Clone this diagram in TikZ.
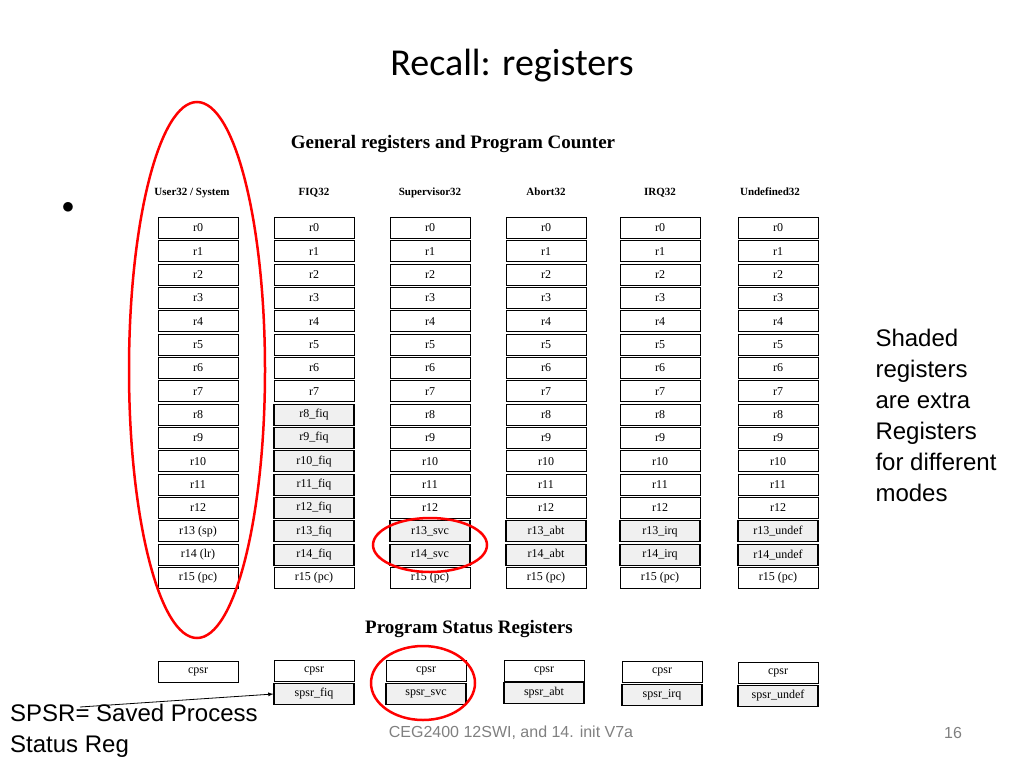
\documentclass[tikz,border=0pt]{standalone}
\usepackage{fontspec}
\setmainfont{Liberation Serif}
\newfontfamily\titlefont{Carlito}
\newfontfamily\armfont{Liberation Sans}
\tikzset{
  regbox/.style={draw, line width=0.8pt, minimum width=80pt, minimum height=21pt, inner sep=0pt, font=\fontsize{12}{13}\selectfont},
  bankbox/.style={regbox, fill=gray!12, line width=1.1pt},
  modehead/.style={font=\bfseries\fontsize{11}{12}\selectfont, text height=8pt, text depth=2pt},
  ring/.style={draw=red, line width=2.5pt}
}
\begin{document}
\begin{tikzpicture}[x=1pt,y=-1pt]
\useasboundingbox (0,0) rectangle (1024,768);
\node[font=\titlefont\fontsize{38}{42}\selectfont] (title) at (512,66) {Recall: registers};
\node[font=\bfseries\fontsize{19}{22}\selectfont] (genhead) at (453,144) {General registers and Program Counter};
\node[font=\fontsize{30}{30}\selectfont] (bullet) at (68,208) {$\bullet$};
% mode headers
\foreach \m/\x in {{User32 / System}/192,FIQ32/314,Supervisor32/430,Abort32/546,IRQ32/660,Undefined32/770}
  \node[modehead] at (\x,192) {\m};
% general registers
\foreach \c/\x/\n in {usr/198/12,fiq/314/7,svc/430/12,abt/546/12,irq/660/12,und/778/12}
  \foreach \i in {0,...,\n}
    \node[regbox] (\c\i) at (\x,228+23.33*\i) {r\i};
\foreach \i in {8,...,12}
  \node[bankbox] (fiq\i) at (314,228+23.33*\i) {r\i\_fiq};
\node[regbox] (usr13) at (198,531.3) {r13 (sp)};
\node[regbox] (usr14) at (198,554.6) {r14 (lr)};
\foreach \c/\x/\s in {fiq/314/fiq,svc/430/svc,abt/546/abt,irq/660/irq,und/778/undef}{
  \node[bankbox] (\c13) at (\x,531.3) {r13\_\s};
  \node[bankbox] (\c14) at (\x,554.6) {r14\_\s};
}
\foreach \c/\x in {usr/198,fiq/314,svc/430,abt/546,irq/660,und/778}
  \node[regbox] (\c15) at (\x,578) {r15 (pc)};
% program status registers
\node[font=\bfseries\fontsize{19}{22}\selectfont] (psrhead) at (469,629) {Program Status Registers};
\foreach \c/\x/\y in {usr/198/672,fiq/314/671,svc/426/671,abt/544/671,irq/662/672,und/778/673}
  \node[regbox] (\c cpsr) at (\x,\y) {cpsr};
\foreach \c/\x/\y/\s in {fiq/314/694/fiq,svc/426/694/svc,abt/544/693/abt,irq/662/695/irq,und/778/696/undef}
  \node[bankbox] (\c spsr) at (\x,\y) {spsr\_\s};
% red rings
\draw[ring] (197,370) ellipse (68 and 268);
\draw[ring] (430,545) ellipse (57 and 27);
\draw[ring] (423,683) ellipse (52 and 37);
% notes
\node[font=\armfont\fontsize{24}{31}\selectfont, align=left, anchor=north west] (shade) at (872,326) {Shaded\\registers\\are extra\\Registers\\for different\\modes};
\node[font=\armfont\fontsize{24}{31}\selectfont, align=left, anchor=north west, inner sep=0pt] (spsrnote) at (10,704) {SPSR= Saved Process\\Status Reg};
\coordinate (tail) at (80,707);
\draw[-latex, line width=0.8pt] (tail) -- (fiqspsr.west);
\node[font=\armfont\fontsize{16}{18}\selectfont, text=gray] (foot) at (511,733) {CEG2400 12SWI, and 14. init V7a};
\node[font=\armfont\fontsize{16}{18}\selectfont, text=gray] (page) at (953,733) {16};
\end{tikzpicture}
\end{document}
